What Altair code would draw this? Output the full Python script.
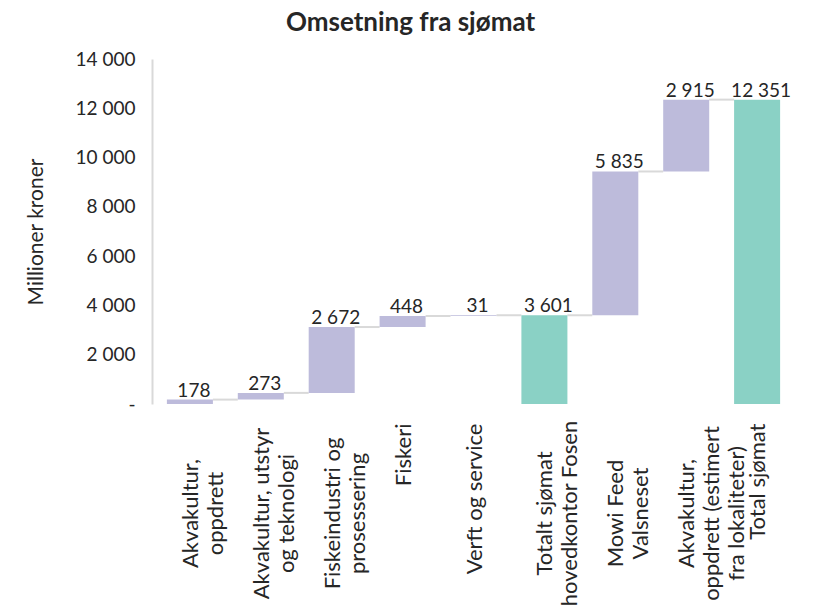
import altair as alt
import pandas as pd

# --- data ---
categories = [
    "Akvakultur,|oppdrett",
    "Akvakultur, utstyr|og teknologi",
    "Fiskeindustri og|prosessering",
    "Fiskeri",
    "Verft og service",
    "Totalt sjømat|hovedkontor Fosen",
    "Mowi Feed|Valsneset",
    "Akvakultur,|oppdrett (estimert|fra lokaliteter)",
    "Total sjømat",
]
values = [178, 273, 2672, 448, 31, 3601, 5835, 2915, 12351]
is_total = [False, False, False, False, False, True, False, False, True]

# --- waterfall geometry from the values ---
rows = []
running = 0
for cat, val, tot in zip(categories, values, is_total):
    if tot:
        start, end = 0, val
    else:
        start, end = running, running + val
    running = end
    rows.append({
        "cat": cat,
        "start": start,
        "end": end,
        "kind": "Total" if tot else "Endring",
        "label": f"{val:,}".replace(",", " "),
    })
df = pd.DataFrame(rows)

conn = pd.DataFrame({
    "cat": categories[:-1],
    "next": categories[1:],
    "level": df["end"].tolist()[:-1],
})

FONT = "Lato"
TXT = "#262626"
MULTI = "indexof(datum.value, '|') >= 0"

xscale = alt.Scale(domain=categories, paddingInner=0.351, paddingOuter=0.21)
yscale = alt.Scale(domain=[0, 14000], nice=False)

bars = alt.Chart(df).mark_bar().encode(
    x=alt.X("cat:N", scale=xscale, title=None,
            axis=alt.Axis(labelAngle=-90,
                          labelAlign={"condition": {"test": MULTI, "value": "center"}, "value": "right"},
                          labelPadding={"condition": {"test": MULTI, "value": 109}, "value": 19},
                          labelBaseline="top", labelOffset=-9,
                          labelExpr="split(datum.label, '|')",
                          labelFontSize=22, labelLineHeight=25, labelLimit=0,
                          labelColor=TXT, labelFont=FONT, domain=False, ticks=False)),
    y=alt.Y("start:Q", scale=yscale, title="Millioner kroner",
            axis=alt.Axis(values=[0, 2000, 4000, 6000, 8000, 10000, 12000, 14000],
                          labelExpr="datum.value == 0 ? '-' : replace(format(datum.value, ','), ',', ' ')",
                          grid=False, ticks=False, domain=True, domainColor="#d9d9d9",
                          domainWidth=2, labelPadding=17, labelFontSize=19,
                          labelColor=TXT, labelFont=FONT, titleFont=FONT,
                          titleFontSize=21, titleFontWeight="normal", titleColor=TXT,
                          titlePadding=29)),
    y2="end:Q",
    color=alt.Color("kind:N", scale=alt.Scale(domain=["Endring", "Total"],
                                               range=["#bdbbdb", "#8ad1c5"]), legend=None),
)

connectors = alt.Chart(conn).mark_rule(color="#d9d9d9", strokeWidth=2).encode(
    x=alt.X("cat:N", scale=xscale, bandPosition=1),
    x2=alt.X2("next:N", bandPosition=0),
    y=alt.Y("level:Q", scale=yscale),
)

texts = alt.Chart(df).mark_text(baseline="alphabetic", dy=-3, dx=4, fontSize=19,
                                font=FONT, color=TXT).encode(
    x=alt.X("cat:N", scale=xscale, bandPosition=0.5),
    y=alt.Y("end:Q", scale=yscale),
    text="label:N",
)

chart = alt.layer(connectors, bars, texts).properties(
    width=643,
    height=345,
    autosize=alt.AutoSizeParams(type="none"),
    padding={"left": 144, "top": 51, "right": 33, "bottom": 201},
    title=alt.TitleParams("Omsetning fra sjømat", font=FONT, fontSize=26,
                          fontWeight="bold", color=TXT, anchor="middle",
                          dx=-63, offset=14),
).configure_view(stroke=None)

chart.save("out.html", embed_options={"renderer": "svg", "actions": False})
